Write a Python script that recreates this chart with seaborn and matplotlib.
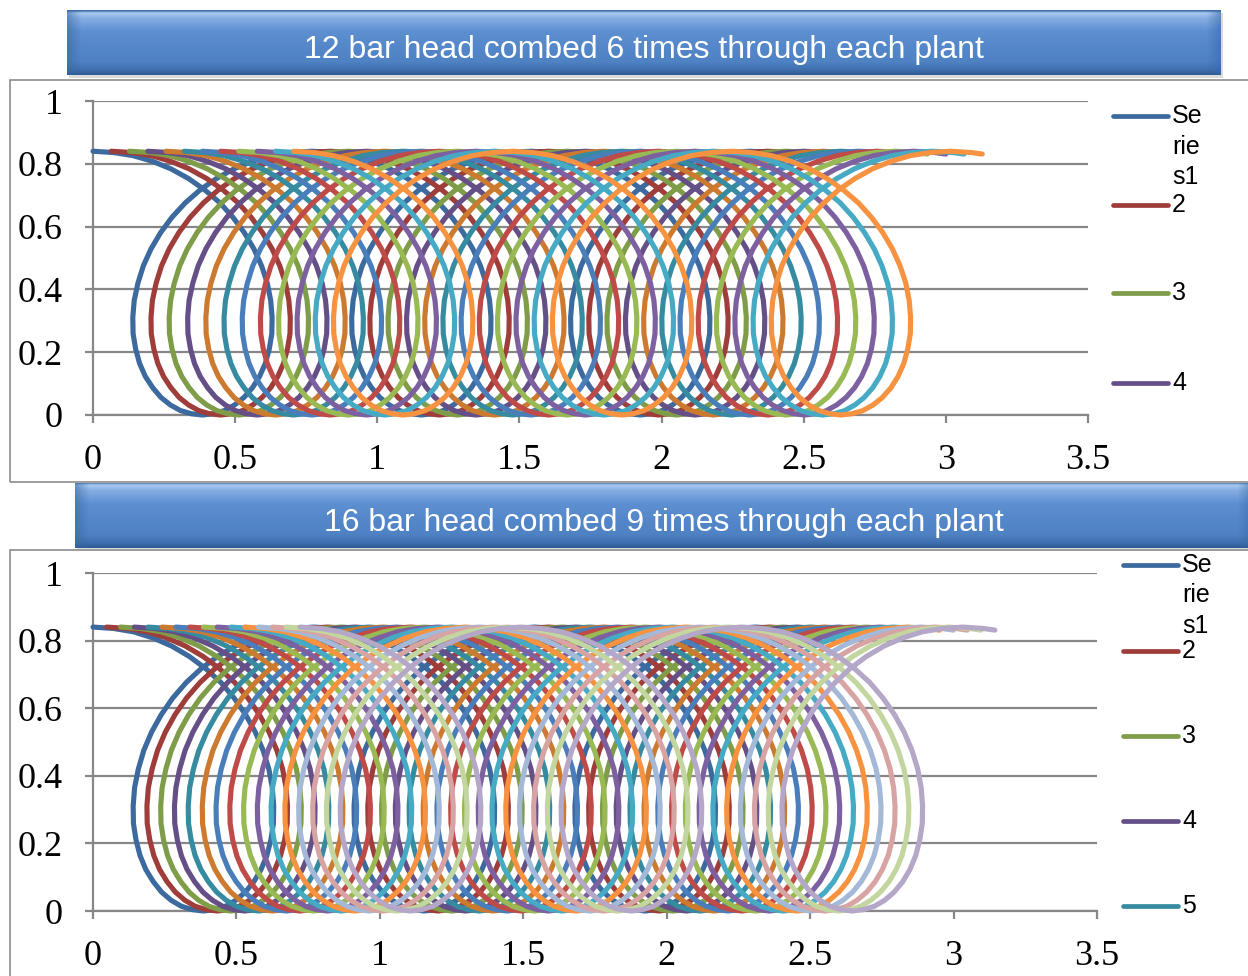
import numpy as np
import pandas as pd
import matplotlib
matplotlib.use("Agg")
import matplotlib.pyplot as plt
import seaborn as sns
from matplotlib.lines import Line2D
from matplotlib.patches import Rectangle

# ---------------- data ----------------
# one revolution of the first bar's tip path, relative to its start point
loop_dx = [0.000, 0.071, 0.141, 0.209, 0.274, 0.336, 0.393, 0.446, 0.492, 0.532, 0.566, 0.593,
           0.613, 0.625, 0.630, 0.629, 0.620, 0.606, 0.586, 0.561, 0.531, 0.498, 0.462, 0.424,
           0.385, 0.346, 0.308, 0.272, 0.239, 0.210, 0.184, 0.164, 0.150, 0.141, 0.140, 0.145,
           0.158, 0.177, 0.204, 0.238, 0.278, 0.325, 0.377, 0.434, 0.496, 0.561, 0.629, 0.699]
loop_y = [0.840, 0.836, 0.826, 0.808, 0.784, 0.753, 0.717, 0.676, 0.630, 0.581, 0.529, 0.475,
          0.420, 0.365, 0.311, 0.259, 0.210, 0.164, 0.123, 0.087, 0.056, 0.032, 0.014, 0.004,
          0.000, 0.004, 0.014, 0.032, 0.056, 0.087, 0.123, 0.164, 0.210, 0.259, 0.311, 0.365,
          0.420, 0.475, 0.529, 0.581, 0.630, 0.676, 0.717, 0.753, 0.784, 0.808, 0.826, 0.836]
revolution_advance = 0.770      # forward travel per head revolution
revolutions = 3
tail_dx = [0.000, 0.071, 0.112]  # last piece after the third revolution
tail_y = [0.840, 0.836, 0.831]

# start offset of every bar (series) along x
top_offsets = [0.000, 0.064, 0.128, 0.193, 0.257, 0.321, 0.385, 0.449, 0.513, 0.578, 0.642, 0.706]
bottom_offsets = [0.000, 0.048, 0.096, 0.144, 0.192, 0.241, 0.289, 0.337, 0.385, 0.433, 0.481,
                  0.529, 0.577, 0.626, 0.674, 0.722]

top_title = "12 bar head combed 6 times through each plant"
bottom_title = "16 bar head combed 9 times through each plant"

x_ticks = [0, 0.5, 1, 1.5, 2, 2.5, 3, 3.5]
x_tick_labels = ["0", "0.5", "1", "1.5", "2", "2.5", "3", "3.5"]
y_ticks = [0, 0.2, 0.4, 0.6, 0.8, 1]
y_tick_labels = ["0", "0.2", "0.4", "0.6", "0.8", "1"]

top_legend_labels = ["Se\nrie\ns1", "2", "3", "4"]
bottom_legend_labels = ["Se\nrie\ns1", "2", "3", "4", "5"]

top_colors = ["#3C6A9E", "#9E3D3A", "#7F9C48", "#654F87", "#CC7A30", "#368BA1",
              "#4A7EBB", "#BE4B48", "#98B954", "#7D60A0", "#46AAC5", "#F69240"]
bottom_colors = ["#3C6A9E", "#9E3D3A", "#7F9C48", "#654F87", "#368BA1", "#CC7A30",
                 "#4A7EBB", "#BE4B48", "#98B954", "#7D60A0", "#46AAC5", "#F69240",
                 "#A4B8D8", "#D7A4A3", "#C3D69F", "#B4A7C8"]

# full path of bar 1 built from the revolutions read above
path_x = [dx + r * revolution_advance for r in range(revolutions) for dx in loop_dx] + \
         [revolutions * revolution_advance + t for t in tail_dx]
path_y = [y for r in range(revolutions) for y in loop_y] + tail_y

# ---------------- style ----------------
sns.set_theme(style="white")
plt.rcParams['font.family'] = ['Liberation Sans', 'DejaVu Sans']

W, H = 1248, 976
fig = plt.figure(figsize=(W / 100, H / 100), dpi=100)
fig.patch.set_facecolor("white")


def fx(px):
    return px / W


def fy(py):
    return 1 - py / H


GRID = "#878787"
LW = 3.7


def hex2rgb(h):
    h = h.lstrip("#")
    return np.array([int(h[i:i + 2], 16) for i in (0, 2, 4)]) / 255.0


def banner(x0, y0, x1, y1, text):
    fig.add_artist(Rectangle((fx(x0 + 2), fy(y1 + 3)), fx(x1) - fx(x0), fy(y0) - fy(y1),
                             transform=fig.transFigure, facecolor="#9a9a9a", alpha=0.35,
                             edgecolor="none", zorder=1))
    ax = fig.add_axes([fx(x0), fy(y1), fx(x1) - fx(x0), fy(y0) - fy(y1)], zorder=2)
    h, w = int(y1 - y0), int(x1 - x0)
    t = np.linspace(0, 1, h)
    stops_t = [0.0, 0.04, 0.12, 0.32, 0.55, 0.80, 0.93, 1.0]
    stops_c = ["#3E6CA8", "#A8CAF0", "#86AEE3", "#5E90D1", "#5588CA", "#4F82C3", "#3F6EAD", "#2E5A93"]
    cols = np.array([hex2rgb(c) for c in stops_c])
    prof = np.stack([np.interp(t, stops_t, cols[:, k]) for k in range(3)], axis=1)
    img = np.repeat(prof[:, None, :], w, axis=1)
    edge = hex2rgb("#3767A5")
    xs = np.arange(w)
    d = np.minimum(xs, w - 1 - xs)
    m = np.clip(1 - d / 14.0, 0, 1)[None, :, None] * 0.55
    img = img * (1 - m) + edge[None, None, :] * m
    ax.imshow(img, aspect="auto", extent=[0, 1, 0, 1], interpolation="bilinear")
    ax.set_xlim(0, 1)
    ax.set_ylim(0, 1)
    ax.axis("off")
    ax.text(0.5, 0.38, text, color="white", fontsize=23, ha="center", va="center",
            transform=ax.transAxes, family=["Liberation Sans", "DejaVu Sans"])


def chart(rect, offsets, colors):
    left, top, right, bottom = rect
    ax = fig.add_axes([fx(left), fy(bottom), fx(right) - fx(left), fy(top) - fy(bottom)], zorder=3)
    ax.set_facecolor("none")
    for off, col in zip(offsets, colors):
        xs = [x + off for x in path_x]
        sns.lineplot(x=xs, y=path_y, sort=False, estimator=None, color=col,
                     linewidth=LW, ax=ax, legend=False)
    for ln in ax.lines:
        ln.set_linewidth(LW)
        ln.set_solid_capstyle("round")
        ln.set_solid_joinstyle("round")
        ln.set_clip_on(False)
        ln.set_zorder(3)
    ax.set_xlim(0, 3.5)
    ax.set_ylim(0, 1)
    ax.set_xticks(x_ticks)
    ax.set_xticklabels(x_tick_labels, fontsize=26, family="Liberation Serif")
    ax.set_yticks(y_ticks)
    ax.set_yticklabels(y_tick_labels, fontsize=26, family="Liberation Serif")
    ax.yaxis.grid(True, color=GRID, lw=1.6)
    ax.xaxis.grid(False)
    ax.set_axisbelow(True)
    for s in ["top", "right"]:
        ax.spines[s].set_visible(False)
    for s in ["left", "bottom"]:
        ax.spines[s].set_color(GRID)
        ax.spines[s].set_linewidth(1.6)
    ax.tick_params(axis="y", direction="out", length=6, width=1.6, color=GRID, pad=16,
                   labelcolor="black", left=True)
    ax.tick_params(axis="x", direction="out", length=6, width=1.6, color=GRID, pad=15,
                   labelcolor="black", bottom=True)
    ax.set_xlabel("")
    ax.set_ylabel("")
    return ax


def legend(entries, x_line0, x_line1, x_text):
    for y, label, col in entries:
        fig.add_artist(Line2D([fx(x_line0), fx(x_line1)], [fy(y), fy(y)], color=col, lw=3.4,
                              solid_capstyle="round", transform=fig.transFigure, zorder=4))
        parts = label.split("\n")
        for i, p in enumerate(parts):
            fig.text(fx(x_text), fy(y + i * 30.5), p, fontsize=18, ha="left", va="center",
                     color="black", zorder=4)


# chart frames
fig.add_artist(Rectangle((fx(10), fy(482)), fx(1260) - fx(10), fy(80) - fy(482),
                         transform=fig.transFigure, facecolor="none", edgecolor="#8c8c8c",
                         lw=1.2, zorder=0))
fig.add_artist(Rectangle((fx(10), fy(990)), fx(1260) - fx(10), fy(550) - fy(990),
                         transform=fig.transFigure, facecolor="none", edgecolor="#8c8c8c",
                         lw=1.2, zorder=0))

banner(67, 10, 1221, 75, top_title)
banner(75, 483, 1252, 548, bottom_title)

chart((93, 101, 1088, 415), top_offsets, top_colors)
chart((93, 573, 1097, 911), bottom_offsets, bottom_colors)

legend([(116, top_legend_labels[0], top_colors[0]),
        (205, top_legend_labels[1], top_colors[1]),
        (293, top_legend_labels[2], top_colors[2]),
        (383, top_legend_labels[3], top_colors[3])], 1113, 1168, 1172)
legend([(565, bottom_legend_labels[0], bottom_colors[0]),
        (651, bottom_legend_labels[1], bottom_colors[1]),
        (736, bottom_legend_labels[2], bottom_colors[2]),
        (821, bottom_legend_labels[3], bottom_colors[3]),
        (906, bottom_legend_labels[4], bottom_colors[4])], 1123, 1178, 1182)

fig.savefig("out.png", dpi=100, facecolor="white")
